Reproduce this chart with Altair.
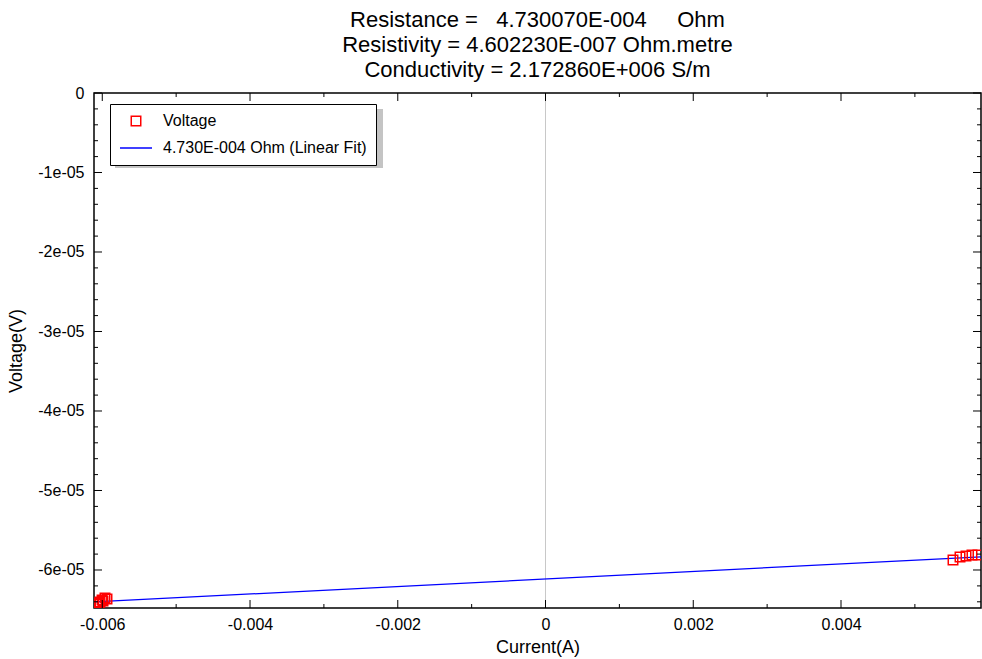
import altair as alt
import pandas as pd

# Measured I-V points (current in A, voltage in V)
current = [-0.006071, -0.006044, -0.006030, -0.006003, -0.005990, -0.005963, -0.005936,
           0.005516, 0.005611, 0.005692, 0.005773, 0.005854]
voltage = [-6.428e-05, -6.415e-05, -6.402e-05, -6.377e-05, -6.390e-05, -6.352e-05, -6.365e-05,
           -5.874e-05, -5.836e-05, -5.824e-05, -5.811e-05, -5.811e-05]

# Linear fit end points
fit_current = [-0.006112, 0.005895]
fit_voltage = [-6.402e-05, -5.834e-05]

series_names = ["Voltage", "4.730E-004 Ohm (Linear Fit)"]

x_domain = [-0.006112, 0.005895]
y_domain = [-6.478e-05, 0.0]

x_major = [-0.006, -0.004, -0.002, 0.0, 0.002, 0.004]
x_minor = [-0.005, -0.003, -0.001, 0.001, 0.003, 0.005]
y_major = [0.0, -1e-05, -2e-05, -3e-05, -4e-05, -5e-05, -6e-05]
y_minor = [-2e-06, -4e-06, -6e-06, -8e-06,
           -1.2e-05, -1.4e-05, -1.6e-05, -1.8e-05,
           -2.2e-05, -2.4e-05, -2.6e-05, -2.8e-05,
           -3.2e-05, -3.4e-05, -3.6e-05, -3.8e-05,
           -4.2e-05, -4.4e-05, -4.6e-05, -4.8e-05,
           -5.2e-05, -5.4e-05, -5.6e-05, -5.8e-05,
           -6.2e-05, -6.4e-05]

NB = "\u00a0"
title_lines = [
    "Resistance =" + NB * 3 + "4.730070E-004" + NB * 5 + "Ohm",
    "Resistivity = 4.602230E-007 Ohm.metre",
    "Conductivity = 2.172860E+006 S/m",
]

W, H = 887, 515
FONT = "Liberation Sans"

points = pd.DataFrame({"I": current, "V": voltage, "series": series_names[0]})
fit = pd.DataFrame({"I": fit_current, "V": fit_voltage, "series": series_names[1]})

xs = alt.Scale(domain=x_domain, nice=False, zero=False)
ys = alt.Scale(domain=y_domain, nice=False, zero=False)

x_labels = "datum.value == 0 ? '0' : (datum.value < 0 ? '-' : '') + format(abs(datum.value), '.3f')"
y_labels = ("datum.value == 0 ? '0' : (datum.value < 0 ? '-' : '') + "
            "replace(format(abs(datum.value), '.0e'), 'e-', 'e-0')")

x_axis = alt.Axis(values=x_major, labelExpr=x_labels, ticks=False, domain=False,
                  grid=False, title="Current(A)", labelFontSize=16, titleFontSize=18,
                  labelPadding=8, titlePadding=6, labelFont=FONT, titleFont=FONT,
                  labelColor="#000", titleColor="#000", titleFontWeight="normal")
y_axis = alt.Axis(values=y_major, labelExpr=y_labels, ticks=False, domain=False,
                  grid=False, title="Voltage(V)", labelFontSize=16, titleFontSize=18,
                  labelPadding=10, titlePadding=12, labelFont=FONT, titleFont=FONT,
                  labelColor="#000", titleColor="#000", titleFontWeight="normal")

legend_color = alt.Scale(domain=series_names, range=["#ff0000", "#0000ff"])
legend_shape = alt.Scale(domain=series_names, range=["square", "stroke"])
legend_size = alt.Scale(domain=series_names, range=[90, 1024])

base_x = alt.X("I:Q", scale=xs, axis=x_axis)
base_y = alt.Y("V:Q", scale=ys, axis=y_axis)

# Light vertical line through zero current
zero_df = pd.DataFrame({"I": [0.0]})
zero_line = alt.Chart(zero_df).mark_rule(color="#c8c8c8", strokeWidth=1).encode(
    x=alt.X("I:Q", scale=xs, axis=x_axis)
)

# Legend drop shadow
shadow = alt.Chart(zero_df).mark_rect(color="#c4c4c4").encode(
    x=alt.value(21), x2=alt.value(289), y=alt.value(16), y2=alt.value(75)
)

fit_line = alt.Chart(fit).mark_line(strokeWidth=1.3, clip=True).encode(
    x=base_x, y=base_y,
    color=alt.Color("series:N", scale=legend_color, title=None),
)

pts = alt.Chart(points).mark_point(filled=False, strokeWidth=1.5, clip=True, opacity=1).encode(
    x=base_x, y=base_y,
    color=alt.Color("series:N", scale=legend_color, title=None),
    shape=alt.Shape("series:N", scale=legend_shape, title=None),
    size=alt.Size("series:N", scale=legend_size, title=None),
)

# Inward tick marks on all four sides
xmaj = pd.DataFrame({"I": x_major})
xmin = pd.DataFrame({"I": x_minor})
ymaj = pd.DataFrame({"V": y_major})
ymin = pd.DataFrame({"V": y_minor})

def xticks(df, length):
    enc_x = alt.X("I:Q", scale=xs, axis=x_axis)
    bottom = alt.Chart(df).mark_rule(color="#000").encode(
        x=enc_x, y=alt.value(H), y2=alt.value(H - length))
    top = alt.Chart(df).mark_rule(color="#000").encode(
        x=enc_x, y=alt.value(0), y2=alt.value(length))
    return bottom + top

def yticks(df, length):
    enc_y = alt.Y("V:Q", scale=ys, axis=y_axis)
    left = alt.Chart(df).mark_rule(color="#000").encode(
        y=enc_y, x=alt.value(0), x2=alt.value(length))
    right = alt.Chart(df).mark_rule(color="#000").encode(
        y=enc_y, x=alt.value(W), x2=alt.value(W - length))
    return left + right

chart = alt.layer(
    zero_line, fit_line, pts,
    xticks(xmaj, 8), xticks(xmin, 4), yticks(ymaj, 8), yticks(ymin, 4),
    shadow,
).properties(
    width=W, height=H,
    title=alt.TitleParams(text=title_lines, fontSize=22, font=FONT, fontWeight="normal",
                          anchor="middle", lineHeight=25, offset=3, color="#000"),
    padding={"left": 94, "top": 93, "right": 1, "bottom": 51},
    autosize="none",
).configure_view(
    stroke="#000", strokeWidth=1.5
).configure_legend(
    orient="none", legendX=16, legendY=11,
    strokeColor="#000", fillColor="#fff", padding=9,
    labelFont=FONT, labelFontSize=16, labelColor="#000", labelOffset=10,
    labelLimit=400, symbolStrokeWidth=1.5, rowPadding=2,
)

chart.save("out.html", embed_options={"renderer": "svg", "actions": False})
